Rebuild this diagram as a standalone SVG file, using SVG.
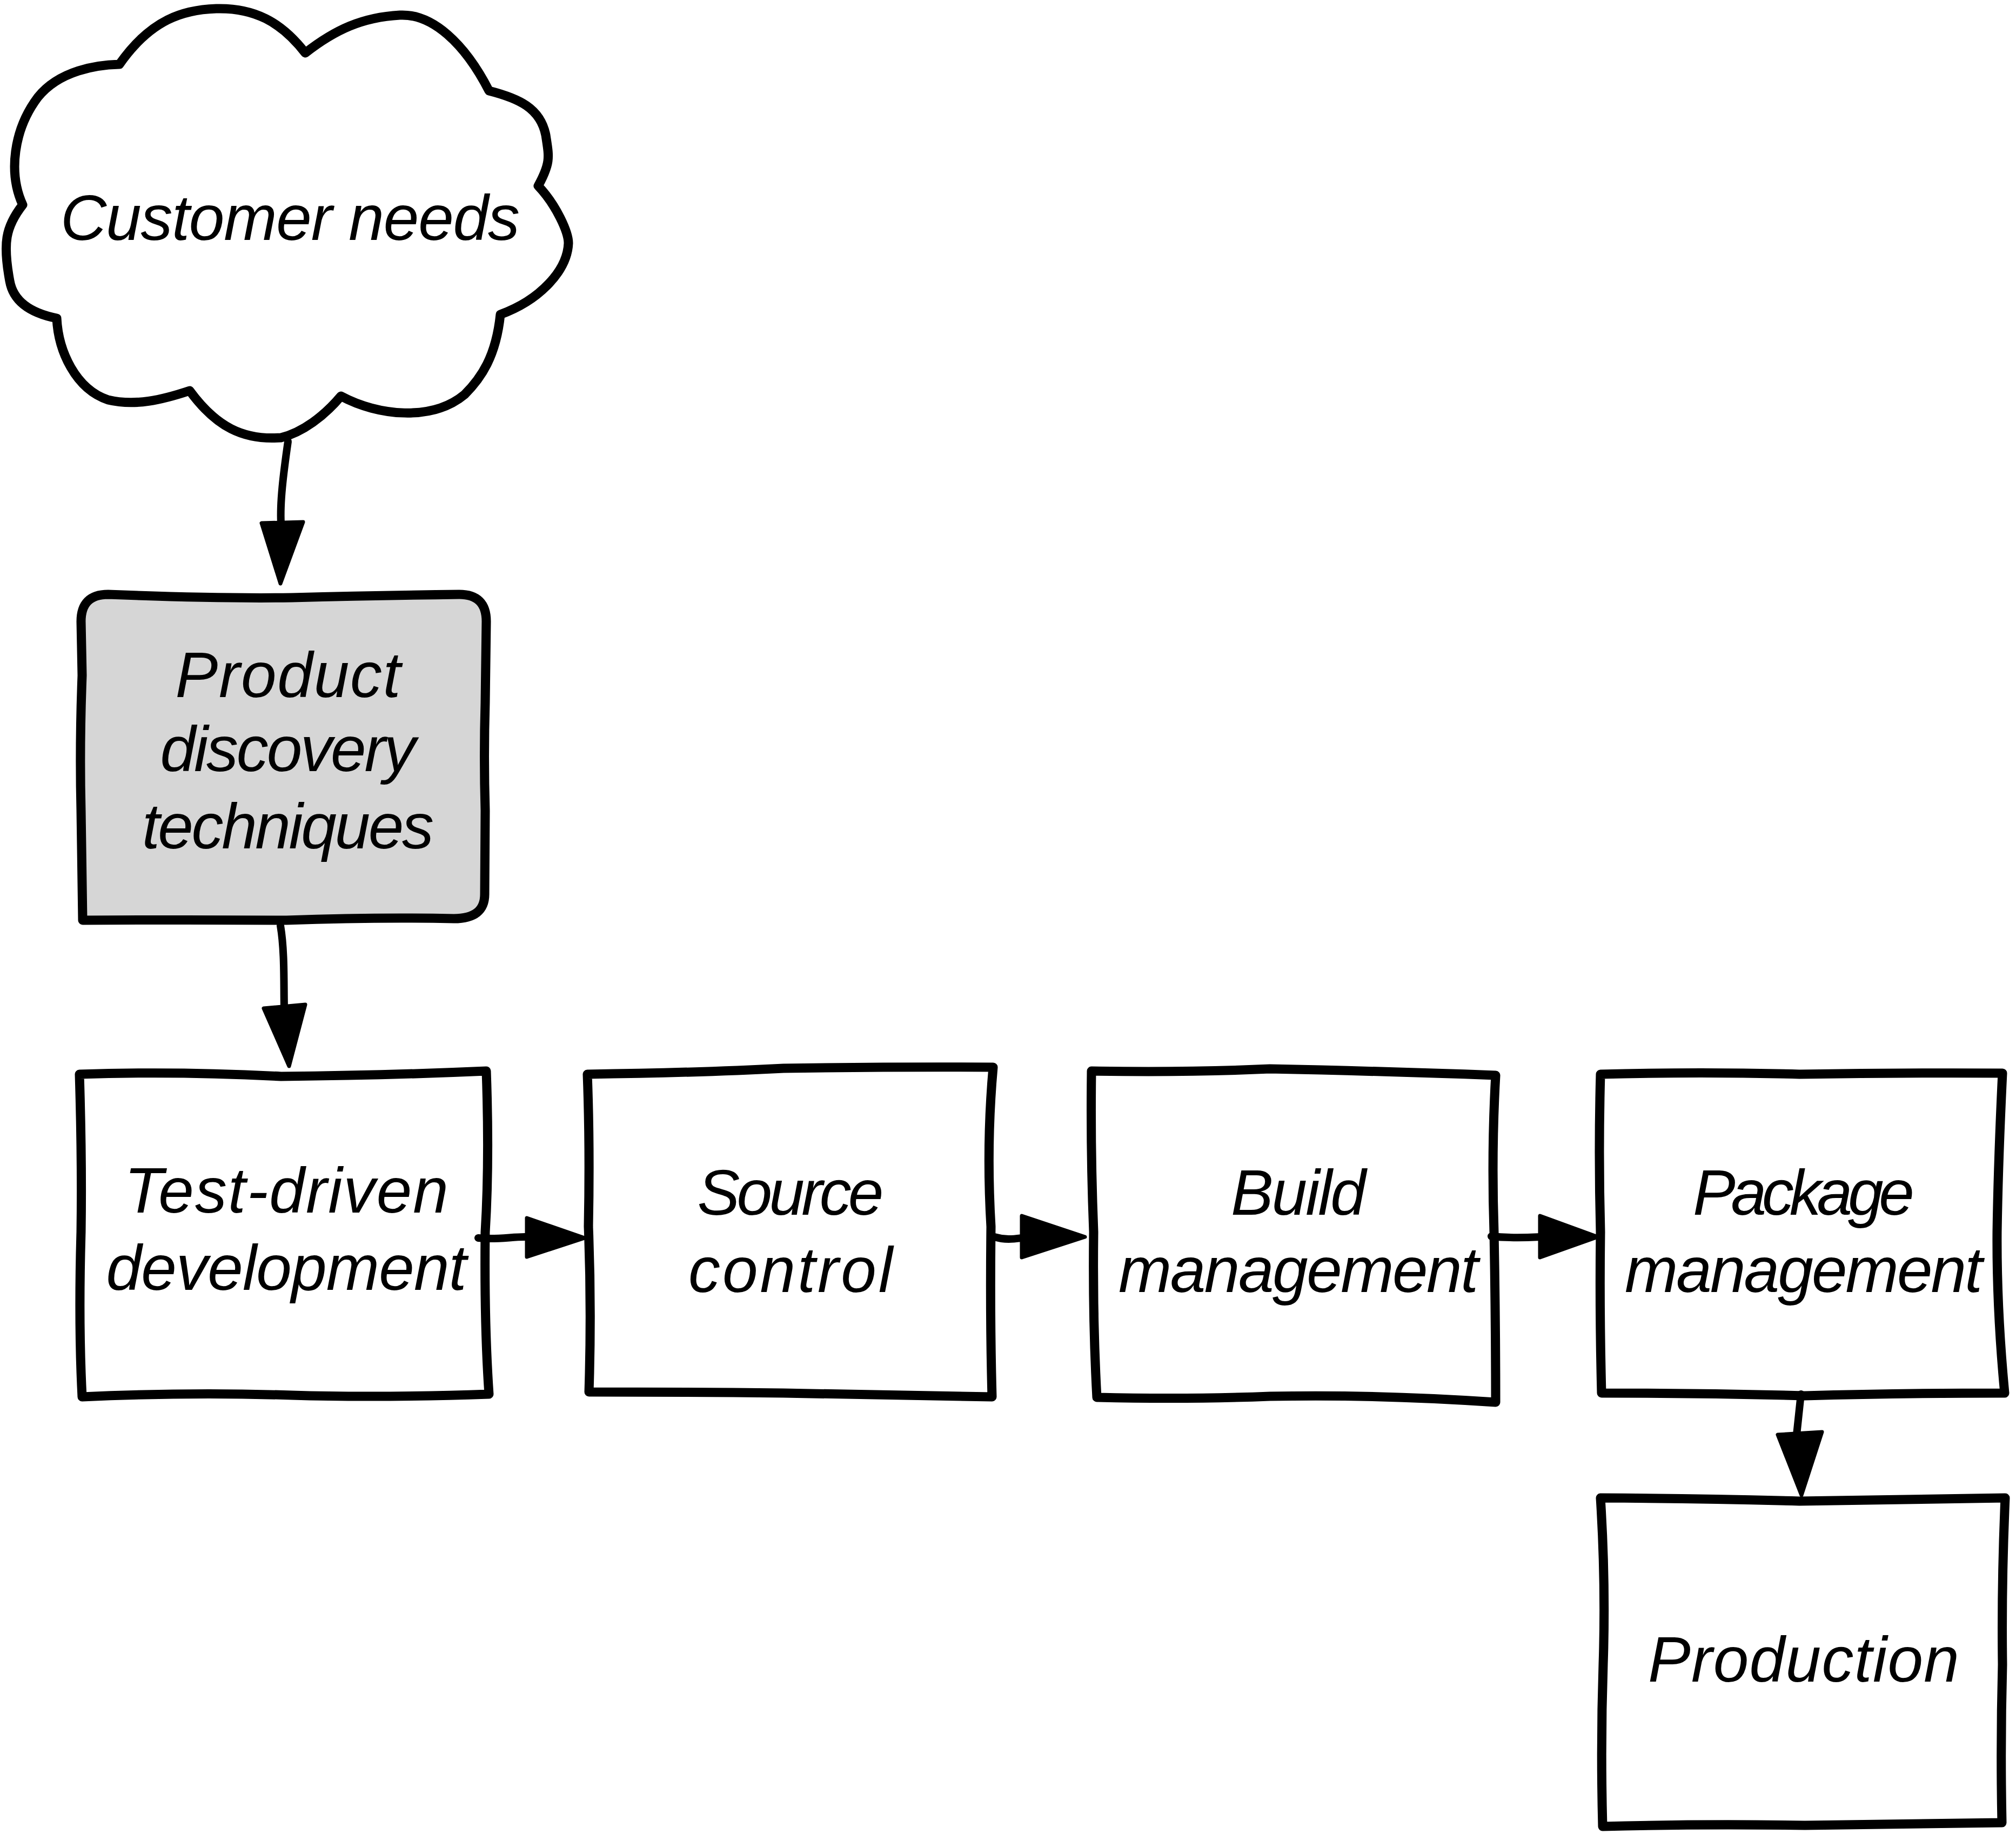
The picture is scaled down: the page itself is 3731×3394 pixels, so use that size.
<svg xmlns="http://www.w3.org/2000/svg" width="3731" height="3394" viewBox="0 0 3731 3394">
<style>
.shape{stroke:#000;stroke-width:17;stroke-linejoin:round;stroke-linecap:round}
.box{fill:#fff}
.gray{fill:#d6d6d6}
.lbl{font-family:"Liberation Sans",Arial,sans-serif;font-style:italic;font-size:118px;fill:#000;text-anchor:middle}
.conn{fill:none;stroke:#000;stroke-width:14;stroke-linecap:round}
.head{fill:#000;stroke:#000;stroke-width:7;stroke-linejoin:round}
</style>
<rect x="0" y="0" width="3731" height="3394" fill="#fff"/>
<g id="customer-needs">
<path class="shape box" d="M221,119 C280,35 340,18 400,16 C470,14 520,40 565,98 C620,55 670,32 740,28 C800,25 860,80 905,168 C960,182 1000,200 1010,250 C1016,290 1020,300 996,344 C1030,380 1052,430 1052,450 C1050,500 1000,555 926,582 C918,660 890,700 860,730 C800,780 700,770 631,733 C600,770 560,800 520,810 C450,815 400,790 351,723 C300,740 250,752 200,740 C140,720 108,650 105,589 C60,580 25,560 18,520 C5,450 10,420 42,379 C15,320 25,240 70,180 C110,130 180,120 221,119 Z"/>
<text class="lbl" x="537" y="444" textLength="850">Customer needs</text>
</g>
<g id="product-discovery">
<path class="shape gray" d="M153,1703 L150,1500 Q147,1380 152,1250 L150,1150 Q150,1100 200,1100 Q400,1108 540,1106 Q700,1102 850,1100 Q900,1100 900,1150 L898,1300 Q895,1400 898,1500 L897,1655 Q897,1700 840,1700 Q700,1697 530,1703 Q350,1702 153,1703 Z"/>
<text class="lbl" x="533" y="1290" textLength="417">Product</text>
<text class="lbl" x="533" y="1427" textLength="473">discovery</text>
<text class="lbl" x="533" y="1570" textLength="540">techniques</text>
</g>
<g id="test-driven">
<path class="shape box" d="M147,1988 Q330,1982 520,1992 Q720,1990 900,1982 Q906,2150 898,2280 Q896,2450 905,2580 Q700,2587 540,2582 Q350,2576 152,2585 Q145,2450 150,2280 Q152,2150 147,1988 Z"/>
<text class="lbl" x="530" y="2244" textLength="600">Test-driven</text>
<text class="lbl" x="530" y="2387" textLength="667">development</text>
</g>
<g id="source-control">
<path class="shape box" d="M1087,1988 Q1300,1985 1450,1977 Q1650,1974 1838,1975 Q1825,2120 1834,2270 Q1832,2440 1836,2585 Q1600,2580 1450,2578 Q1250,2576 1090,2576 Q1095,2420 1089,2270 Q1092,2120 1087,1988 Z"/>
<text class="lbl" x="1463" y="2248" textLength="345">Source</text>
<text class="lbl" x="1463" y="2391" textLength="378">control</text>
</g>
<g id="build-management">
<path class="shape box" d="M2020,1982 Q2200,1985 2350,1978 Q2550,1982 2768,1990 Q2760,2130 2765,2280 Q2768,2440 2768,2595 Q2550,2580 2350,2584 Q2200,2590 2030,2586 Q2022,2440 2024,2280 Q2018,2130 2020,1982 Z"/>
<text class="lbl" x="2403" y="2248" textLength="250">Build</text>
<text class="lbl" x="2403" y="2391" textLength="666">management</text>
</g>
<g id="package-management">
<path class="shape box" d="M2962,1988 Q3150,1983 3330,1988 Q3520,1985 3706,1986 Q3698,2150 3696,2280 Q3695,2420 3710,2578 Q3520,2578 3340,2583 Q3150,2578 2964,2578 Q2960,2420 2962,2280 Q2958,2130 2962,1988 Z"/>
<text class="lbl" x="3338" y="2248" textLength="410">Package</text>
<text class="lbl" x="3338" y="2391" textLength="662">management</text>
</g>
<g id="production">
<path class="shape box" d="M2962,2772 Q3150,2773 3330,2778 Q3520,2775 3711,2772 Q3704,2930 3706,3080 Q3702,3230 3705,3373 Q3520,3375 3340,3378 Q3150,3375 2966,3380 Q2962,3230 2967,3080 Q2972,2930 2962,2772 Z"/>
<text class="lbl" x="3338" y="3112" textLength="576">Production</text>
</g>
<g id="connectors">
<path class="conn" d="M533,817 C524,880 518,930 520,968"/>
<polygon class="head" points="484,968 561,966 519,1080"/>
<path class="conn" d="M519,1713 C527,1760 525,1820 526,1866"/>
<polygon class="head" points="488,1866 565,1859 535,1973"/>
<path class="conn" d="M885,2291 C920,2295 950,2288 975,2289"/>
<polygon class="head" points="975,2254 975,2326 1082,2291"/>
<path class="conn" d="M1840,2289 C1860,2295 1875,2293 1891,2291"/>
<polygon class="head" points="1891,2250 1891,2327 2008,2289"/>
<path class="conn" d="M2760,2288 C2800,2292 2830,2290 2850,2289"/>
<polygon class="head" points="2850,2250 2850,2327 2957,2289"/>
<path class="conn" d="M3333,2580 L3325,2655"/>
<polygon class="head" points="3290,2655 3372,2650 3334,2767"/>
</g>
</svg>
